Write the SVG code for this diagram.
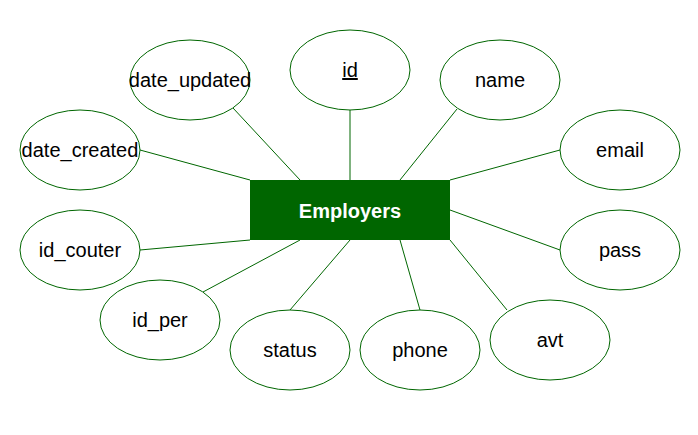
<svg xmlns="http://www.w3.org/2000/svg" width="698" height="435" viewBox="0 0 698 435">
<style>
.attr ellipse{fill:#ffffff;stroke:#006600;stroke-width:1}
.attr text{font-family:"Liberation Sans",Arial,sans-serif;font-size:20px;fill:#000000;text-anchor:middle}
#connectors line{stroke:#006600;stroke-width:1}
.ent rect{fill:#006600;stroke:none}
.ent text{font-family:"Liberation Sans",Arial,sans-serif;font-size:20px;font-weight:bold;fill:#ffffff;text-anchor:middle}
</style>
<rect width="698" height="435" fill="#ffffff"/>
<g id="connectors">
<line x1="350" y1="110" x2="350" y2="180"/>
<line x1="233" y1="108" x2="300" y2="180"/>
<line x1="457" y1="109" x2="400" y2="180"/>
<line x1="140" y1="150" x2="250" y2="180"/>
<line x1="560" y1="150" x2="450" y2="180"/>
<line x1="140" y1="250" x2="250" y2="240"/>
<line x1="450" y1="210" x2="560" y2="250"/>
<line x1="203" y1="292" x2="300" y2="240"/>
<line x1="290" y1="310" x2="350" y2="240"/>
<line x1="420" y1="310" x2="400" y2="240"/>
<line x1="450" y1="240" x2="507" y2="310"/>
</g>
<g id="employers" class="ent"><rect x="250" y="180" width="200" height="60"/><text x="350" y="218">Employers</text></g>
<g id="attr-id" class="attr"><ellipse cx="350" cy="70" rx="60" ry="40"/><text x="350" y="77" text-decoration="underline">id</text></g>
<g id="attr-date_updated" class="attr"><ellipse cx="190" cy="80" rx="60" ry="40"/><text x="190" y="87">date_updated</text></g>
<g id="attr-name" class="attr"><ellipse cx="500" cy="80" rx="60" ry="40"/><text x="500" y="87">name</text></g>
<g id="attr-date_created" class="attr"><ellipse cx="80" cy="150" rx="60" ry="40"/><text x="80" y="157">date_created</text></g>
<g id="attr-email" class="attr"><ellipse cx="620" cy="150" rx="60" ry="40"/><text x="620" y="157">email</text></g>
<g id="attr-id_couter" class="attr"><ellipse cx="80" cy="250" rx="60" ry="40"/><text x="80" y="257">id_couter</text></g>
<g id="attr-pass" class="attr"><ellipse cx="620" cy="250" rx="60" ry="40"/><text x="620" y="257">pass</text></g>
<g id="attr-id_per" class="attr"><ellipse cx="160" cy="320" rx="60" ry="40"/><text x="160" y="327">id_per</text></g>
<g id="attr-status" class="attr"><ellipse cx="290" cy="350" rx="60" ry="40"/><text x="290" y="357">status</text></g>
<g id="attr-phone" class="attr"><ellipse cx="420" cy="350" rx="60" ry="40"/><text x="420" y="357">phone</text></g>
<g id="attr-avt" class="attr"><ellipse cx="550" cy="340" rx="60" ry="40"/><text x="550" y="347">avt</text></g>
</svg>
